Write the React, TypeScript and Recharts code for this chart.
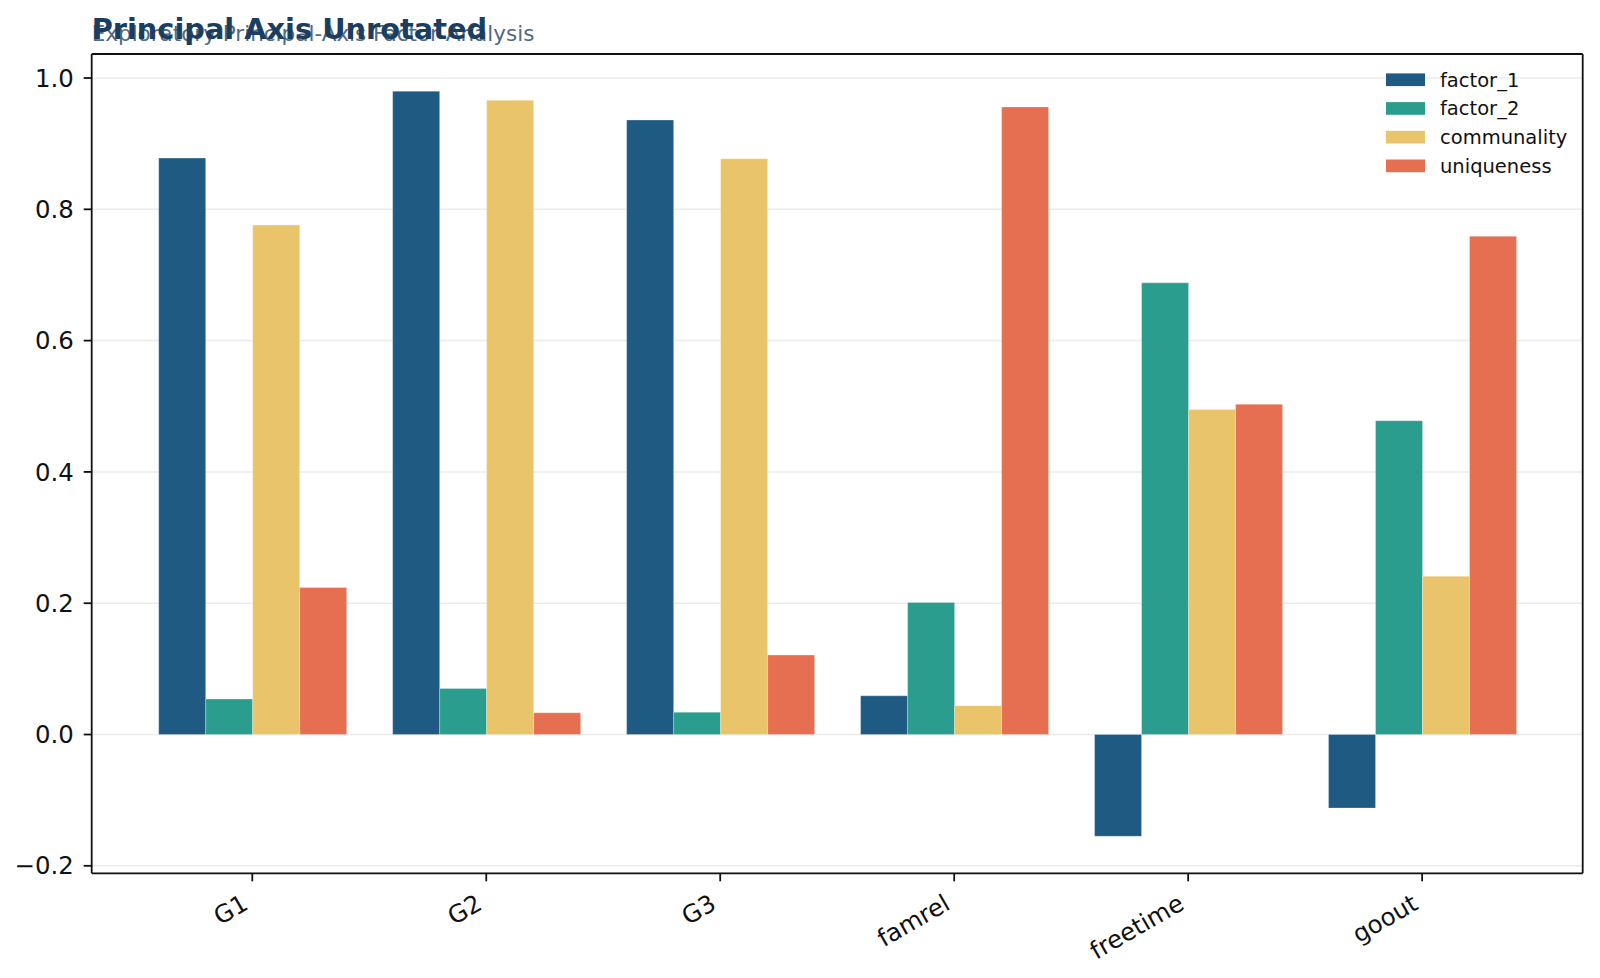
import React from 'react';
import { BarChart, Bar, XAxis, YAxis, CartesianGrid, Legend } from 'recharts';

const categories = ['G1', 'G2', 'G3', 'famrel', 'freetime', 'goout'];
const factor1 = [0.878, 0.980, 0.936, 0.059, -0.155, -0.112];
const factor2 = [0.054, 0.070, 0.034, 0.201, 0.688, 0.478];
const communality = [0.776, 0.966, 0.877, 0.044, 0.495, 0.241];
const uniqueness = [0.224, 0.033, 0.121, 0.956, 0.503, 0.759];
const yTicks = [-0.2, 0.0, 0.2, 0.4, 0.6, 0.8, 1.0];

const seriesNames = ['factor_1', 'factor_2', 'communality', 'uniqueness'];
const seriesColors = ['#1f5a82', '#2a9d8e', '#e9c46a', '#e76f51'];
const seriesValues = [factor1, factor2, communality, uniqueness];

const data = categories.map((name, i) => {
  const row: Record<string, number | string> = { name };
  seriesNames.forEach((s, k) => {
    row[s] = seriesValues[k][i];
  });
  return row;
});

const FONT = '"DejaVu Sans", sans-serif';
const TICK_FS = 24.4;

const fmt = (v: number) => (v < 0 ? '\u2212' + Math.abs(v).toFixed(1) : v.toFixed(1));

const XTick = (props: any) => {
  const { x, y, payload } = props;
  return (
    <text
      transform={`translate(${x - 2.5},${y + 19}) rotate(-30)`}
      textAnchor="end"
      fontSize={TICK_FS}
      fontFamily={FONT}
      fill="#111"
    >
      {payload.value}
    </text>
  );
};

const LegendContent = () => (
  <svg width={210} height={125} style={{ display: 'block' }}>
    {seriesNames.map((s, k) => {
      const cy = 19.7 + k * 28.7;
      return (
        <g key={s}>
          <rect x={6} y={cy - 6.3} width={39} height={12.7} fill={seriesColors[k]} />
          <text x={60} y={cy + 7} fontSize={19.5} fontFamily={FONT} fill="#111">
            {s}
          </text>
        </g>
      );
    })}
  </svg>
);

export default function App() {
  return (
    <div style={{ position: 'absolute', left: 0, top: 0, width: 1600, height: 978, background: '#fff' }}>
      <svg width={1600} height={54} style={{ position: 'absolute', left: 0, top: 0 }}>
        <text x={91.7} y={41.3} fontSize={21.5} fontFamily={FONT} fill="#4f6a85">
          Exploratory Principal-Axis Factor Analysis
        </text>
        <text x={91.7} y={39.3} fontSize={28.8} fontWeight="bold" fontFamily={FONT} fill="#1b3d5f">
          Principal Axis Unrotated
        </text>
      </svg>
      <div style={{ position: 'absolute', left: 0, top: 0 }}>
        <BarChart
          width={1600}
          height={978}
          data={data}
          margin={{ top: 53, right: 16.3, bottom: 44.7, left: 11.7 }}
          barCategoryGap="10%"
          barGap={0}
        >
          <CartesianGrid
            xAxisId="main"
            yAxisId="left"
            horizontal
            vertical={false}
            stroke="#ebebeb"
            strokeWidth={1.5}
          />
          <XAxis
            xAxisId="main"
            dataKey="name"
            height={60}
            padding={{ left: 43.6, right: 43.6 }}
            tickSize={8}
            tickMargin={8}
            tick={<XTick />}
            tickLine={{ stroke: '#111', strokeWidth: 1.8 }}
            axisLine={{ stroke: '#111', strokeWidth: 1.8 }}
            interval={0}
          />
          <XAxis
            xAxisId="top"
            dataKey="name"
            orientation="top"
            height={1}
            tick={false}
            tickLine={false}
            axisLine={{ stroke: '#111', strokeWidth: 1.8 }}
          />
          <YAxis
            yAxisId="left"
            width={80}
            domain={[-0.2114, 1.0366]}
            allowDataOverflow
            ticks={yTicks}
            interval={0}
            tickFormatter={fmt}
            tickSize={8}
            tickMargin={10}
            tick={{ fontSize: TICK_FS, fontFamily: FONT, fill: '#111' }}
            tickLine={{ stroke: '#111', strokeWidth: 1.8 }}
            axisLine={{ stroke: '#111', strokeWidth: 1.8 }}
          />
          <YAxis
            yAxisId="right"
            orientation="right"
            width={1}
            domain={[-0.2114, 1.0366]}
            tick={false}
            tickLine={false}
            axisLine={{ stroke: '#111', strokeWidth: 1.8 }}
          />
          <Legend
            layout="vertical"
            align="center"
            verticalAlign="middle"
            content={<LegendContent />}
            wrapperStyle={{ position: 'absolute', left: 1380, top: 60, width: 210, height: 125 }}
          />
          {seriesNames.map((s, k) => (
            <Bar
              key={s}
              xAxisId="main"
              yAxisId="left"
              dataKey={s}
              name={s}
              fill={seriesColors[k]}
              stroke="#ffffff"
              strokeOpacity={0.35}
              strokeWidth={0.8}
              isAnimationActive={false}
            />
          ))}
        </BarChart>
      </div>
    </div>
  );
}
